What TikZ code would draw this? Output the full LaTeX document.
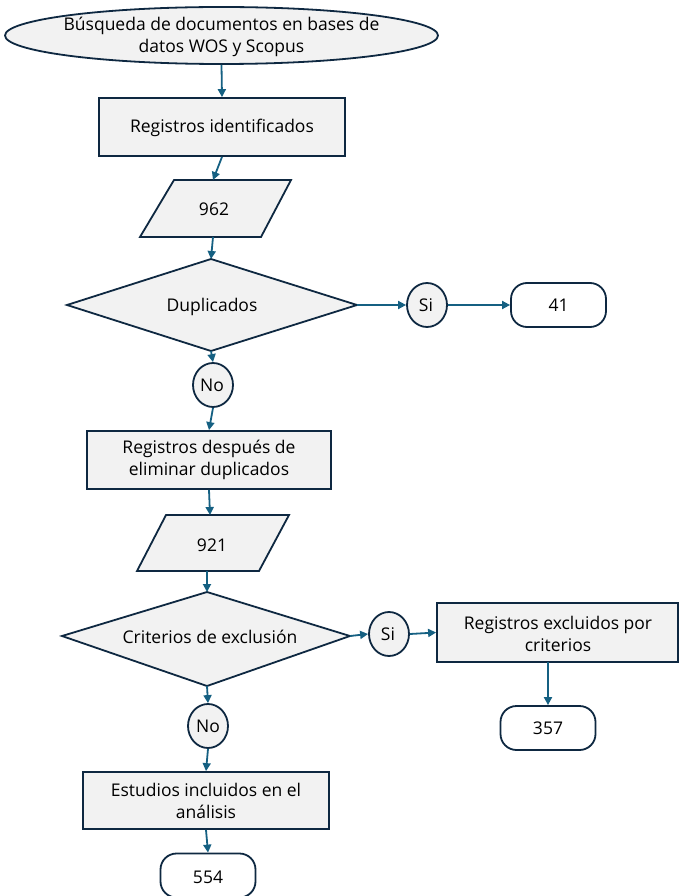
\documentclass[tikz,border=0pt]{standalone}
\usepackage{fontspec}
\setmainfont{Open Sans}
\usetikzlibrary{arrows.meta,shapes.geometric}
\definecolor{edge}{HTML}{0E2841}
\definecolor{flow}{HTML}{156082}
\definecolor{pane}{HTML}{F2F2F2}
\begin{document}
\begin{tikzpicture}[x=1pt,y=-1pt,
  shapeline/.style={draw=edge,line width=1.8pt,fill=pane,line join=miter},
  boxnode/.style={shapeline,rectangle,inner sep=0pt},
  capsule/.style={draw=edge,line width=1.8pt,fill=white,rectangle,rounded corners=16pt,minimum width=95,minimum height=44,inner sep=0pt},
  bubble/.style={shapeline,ellipse,minimum width=40,minimum height=44,inner sep=0pt},
  txt/.style={font=\fontsize{17.5}{22}\selectfont,align=center,text=black,inner sep=0pt},
  arr/.style={draw=flow,line width=1.8pt,-{Triangle[length=8pt,width=8pt]}}]
\useasboundingbox (0,0) rectangle (678,896);

% start: search in databases
\node[shapeline,ellipse,minimum width=433,minimum height=57,inner sep=0pt] (start) at (221.5,35.5) {};
\node[txt] (starttxt) at (221.5,36.5) {Búsqueda de documentos en bases de\\datos WOS y Scopus};

% identified records
\node[boxnode,minimum width=246,minimum height=58] (reg) at (222,127) {};
\node[txt] (regtxt) at (222,128) {Registros identificados};

% 962 parallelogram
\draw[shapeline] (174,180) -- (291,180) -- (261,237) -- (140,237) -- cycle;
\coordinate (pa) at (213,180);
\coordinate (pb) at (213,237);
\node[txt] (n962) at (214,209) {962};

% duplicates decision
\draw[shapeline] (211,259) coordinate (dupN) -- (357,305) coordinate (dupE)
  -- (211,351) coordinate (dupS) -- (67,305) -- cycle;
\node[txt] (duptxt) at (212,307) {Duplicados};

\node[bubble] (si1) at (427,305) {};
\node[txt] (si1txt) at (426,305) {Si};
\node[capsule] (n41) at (558.5,305) {};
\node[txt] (n41txt) at (558.5,305) {41};

\node[bubble] (no1) at (213,385) {};
\node[txt] (no1txt) at (212,385) {No};

% records after removing duplicates
\node[boxnode,minimum width=244,minimum height=58] (elim) at (209,460) {};
\node[txt] (elimtxt) at (209,460) {Registros después de\\eliminar duplicados};

% 921 parallelogram
\draw[shapeline] (166,515) -- (289,515) -- (259,571) -- (137,571) -- cycle;
\coordinate (qa) at (210,515);
\coordinate (qb) at (207,571);
\node[txt] (n921) at (212,545) {921};

% exclusion criteria decision
\draw[shapeline] (207,592) coordinate (critN) -- (350,636) coordinate (critE)
  -- (207,686) coordinate (critS) -- (62,636) -- cycle;
\node[txt] (crittxt) at (210,637) {Criterios de exclusión};

\node[bubble] (si2) at (389,634) {};
\node[txt] (si2txt) at (388,634) {Si};

\node[boxnode,minimum width=241,minimum height=59] (excl) at (557.5,632.5) {};
\node[txt] (excltxt) at (558,634) {Registros excluidos por\\criterios};
\coordinate (exclS) at (548,662);
\node[capsule] (n357) at (548,728) {};
\node[txt] (n357txt) at (548,728) {357};

\node[bubble] (no2) at (208,726) {};
\node[txt] (no2txt) at (208,726) {No};

% included studies
\node[boxnode,minimum width=246,minimum height=57] (est) at (206,800.5) {};
\node[txt] (esttxt) at (206,801) {Estudios incluidos en el\\análisis};
\node[capsule] (n554) at (208,875.5) {};
\node[txt] (n554txt) at (208,877) {554};

% connectors
\draw[arr] (start.south) -- (reg.north);
\draw[arr] (reg.south) -- (pa);
\draw[arr] (pb) -- (dupN);
\draw[arr] (dupE) -- (si1.west);
\draw[arr] (si1.east) -- (n41.west);
\draw[arr] (dupS) -- (no1.north);
\draw[arr] (no1.south) -- (elim.north);
\draw[arr] (elim.south) -- (qa);
\draw[arr] (qb) -- (critN);
\draw[arr] (critE) -- (si2.west);
\draw[arr] (si2.east) -- (excl.west);
\draw[arr] (exclS) -- (n357.north);
\draw[arr] (critS) -- (no2.north);
\draw[arr] (no2.south) -- (est.north);
\draw[arr] (est.south) -- (n554.north);
\end{tikzpicture}
\end{document}
